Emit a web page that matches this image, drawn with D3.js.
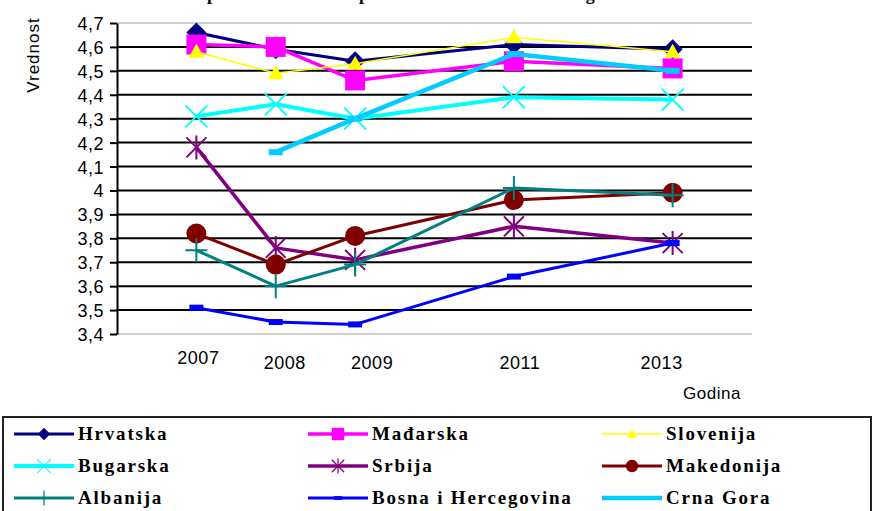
<!DOCTYPE html>
<html>
<head>
<meta charset="utf-8">
<script src="https://cdn.jsdelivr.net/npm/d3@7"></script>
<style>
  body { margin: 0; background: #fff; }
  svg { display: block; }
  .tick text { font-family: "Liberation Sans", Arial, sans-serif; }
</style>
</head>
<body>
<div id="chart"></div>
<script>
// years on the x axis
const years = [2007, 2008, 2009, 2011, 2013];

// values per country (null = no data)
const hrvatska   = [4.66, 4.59, 4.54, 4.61, 4.59];
const madjarska  = [4.61, 4.60, 4.46, 4.54, 4.51];
const slovenija  = [4.58, 4.49, 4.53, 4.64, 4.58];
const bugarska   = [4.31, 4.36, 4.30, 4.39, 4.38];
const srbija     = [4.18, 3.76, 3.71, 3.85, 3.78];
const makedonija = [3.82, 3.69, 3.81, 3.96, 3.99];
const albanija   = [3.75, 3.60, 3.69, 4.01, 3.98];
const bih        = [3.51, 3.45, 3.44, 3.64, 3.78];
const crnaGora   = [null, 4.16, 4.30, 4.57, 4.50];

const yTicks = [3.4, 3.5, 3.6, 3.7, 3.8, 3.9, 4.0, 4.1, 4.2, 4.3, 4.4, 4.5, 4.6, 4.7];

const series = [
	{ name: 'Hrvatska', values: hrvatska, color: '#000080', width: 3, marker: 'diamond' },
	{ name: 'Mađarska', values: madjarska, color: '#ff00ff', width: 3.5, marker: 'square' },
	{ name: 'Slovenija', values: slovenija, color: '#ffff00', width: 1.5, marker: 'triangle' },
	{ name: 'Bugarska', values: bugarska, color: '#00ffff', width: 4, marker: 'x' },
	{ name: 'Srbija', values: srbija, color: '#800080', width: 3.5, marker: 'star' },
	{ name: 'Makedonija', values: makedonija, color: '#800000', width: 3, marker: 'circle' },
	{ name: 'Albanija', values: albanija, color: '#008080', width: 3, marker: 'plus' },
	{ name: 'Bosna i Hercegovina', values: bih, color: '#0000ff', width: 3, marker: 'dash' },
	{ name: 'Crna Gora', values: crnaGora, color: '#00ccff', width: 4.5, marker: 'dash' }
];

const W = 874, H = 511;
const plot = { left: 117, right: 752, top: 23, bottom: 334 };

const svg = d3.select('#chart').append('svg')
	.attr('width', W)
	.attr('height', H);

// title: the chart is cropped, only the descenders of the title show at the top edge
svg.append('text')
	.attr('x', 174)
	.attr('y', 0)
	.style('font-family', '"Liberation Serif", serif')
	.style('font-weight', 'bold')
	.style('font-size', '18px')
	.text('Ukupne ocene država u periodu 2007-2013 u celom regionu');

const x = d3.scaleLinear().domain([2006, 2014]).range([plot.left, plot.right]);
const y = d3.scaleLinear().domain([3.4, 4.7]).range([plot.bottom, plot.top]);

const fmt = d => Math.abs(d - 4) < 1e-9 ? '4' : d.toFixed(1).replace('.', ',');

// grid
const grid = svg.append('g');
grid.selectAll('line')
	.data(yTicks)
	.enter()
	.append('line')
		.attr('x1', plot.left)
		.attr('x2', plot.right)
		.attr('y1', d => y(d))
		.attr('y2', d => y(d))
		.attr('stroke', (d, i) => (i === 0 || i === yTicks.length - 1) ? '#c0c0c0' : '#000')
		.attr('stroke-width', (d, i) => (i === 0 || i === yTicks.length - 1) ? 1.5 : 2);

// y axis
const yAxis = svg.append('g')
	.attr('transform', `translate(${plot.left},0)`)
	.call(d3.axisLeft(y).tickValues(yTicks).tickFormat(fmt).tickSize(7).tickSizeOuter(0));
yAxis.select('.domain').attr('stroke', '#000').attr('stroke-width', 2);
yAxis.selectAll('.tick line').attr('stroke', '#000').attr('stroke-width', 2);
yAxis.selectAll('.tick text')
	.attr('x', -13)
	.attr('dy', '0.36em')
	.style('font-size', '18px')
	.style('letter-spacing', '0.5px')
	.attr('fill', '#000');

svg.append('text')
	.attr('transform', 'translate(39,55) rotate(-90)')
	.attr('text-anchor', 'middle')
	.style('font-family', '"Liberation Sans", Arial, sans-serif')
	.style('font-size', '17px')
	.style('letter-spacing', '1px')
	.text('Vrednost');

// x labels (placed slightly off the points, as in the original)
const labelShift = { 2007: 2, 2008: 9, 2009: 17, 2011: 6, 2013: -11 };
const labelDrop = { 2007: 0, 2008: 5, 2009: 5, 2011: 5, 2013: 5 };
svg.append('g')
	.selectAll('text')
	.data(years)
	.enter()
	.append('text')
		.attr('x', d => x(d) + labelShift[d])
		.attr('y', d => 364 + labelDrop[d])
		.attr('text-anchor', 'middle')
		.style('font-family', '"Liberation Sans", Arial, sans-serif')
		.style('font-size', '18px')
		.style('letter-spacing', '0.5px')
		.text(d => d);

svg.append('text')
	.attr('x', 712)
	.attr('y', 399)
	.attr('text-anchor', 'middle')
	.style('font-family', '"Liberation Sans", Arial, sans-serif')
	.style('font-size', '17px')
	.style('letter-spacing', '0.5px')
	.text('Godina');

// marker shapes, k = scale factor
function drawMarker(g, s, cx, cy, k) {
	const m = s.marker;
	const mk = g.append('g').attr('transform', `translate(${cx},${cy}) scale(${k})`);
	if (m === 'circle') {
		mk.append('circle').attr('r', 10).attr('fill', s.color);
		return;
	}
	let d, fill = s.color, stroke = 'none', sw = 0;
	if (m === 'diamond') d = 'M0,-10L10,0L0,10L-10,0Z';
	else if (m === 'square') d = 'M-10,-10H10V10H-10Z';
	else if (m === 'triangle') d = 'M0,-8L8,6H-8Z';
	else if (m === 'x') { d = 'M-11,-11L11,11M11,-11L-11,11'; fill = 'none'; stroke = s.color; sw = 1.8; }
	else if (m === 'star') { d = 'M-10,-10L10,10M10,-10L-10,10M0,-12V12'; fill = 'none'; stroke = s.color; sw = 2; }
	else if (m === 'plus') { d = 'M-11,0H11M0,-12V12'; fill = 'none'; stroke = s.color; sw = 2; }
	else if (m === 'dash') d = 'M-7,-3H7V3H-7Z';
	mk.append('path')
		.attr('d', d)
		.attr('fill', fill)
		.attr('stroke', stroke)
		.attr('stroke-width', sw);
}

// series lines + markers
const line = d3.line()
	.defined(d => d.v !== null)
	.x(d => x(d.year))
	.y(d => y(d.v));

series.forEach(s => {
	const pts = years.map((yr, i) => ({ year: yr, v: s.values[i] }));
	const g = svg.append('g');
	g.append('path')
		.datum(pts)
		.attr('d', line)
		.attr('fill', 'none')
		.attr('stroke', s.color)
		.attr('stroke-width', s.width)
		.attr('stroke-linejoin', 'round');
	pts.filter(p => p.v !== null).forEach(p => drawMarker(g, s, x(p.year), y(p.v), 1));
});

// legend
svg.append('rect')
	.attr('x', 3)
	.attr('y', 417)
	.attr('width', 868)
	.attr('height', 110)
	.attr('fill', 'none')
	.attr('stroke', '#222')
	.attr('stroke-width', 2);

const colX = [14, 308, 602];
const rowY = [434, 466, 498];
series.forEach((s, i) => {
	const lx = colX[i % 3], ly = rowY[Math.floor(i / 3)];
	const g = svg.append('g');
	g.append('line')
		.attr('x1', lx).attr('x2', lx + 60)
		.attr('y1', ly).attr('y2', ly)
		.attr('stroke', s.color)
		.attr('stroke-width', s.width);
	drawMarker(g, s, lx + 30, ly, 0.62);
	g.append('text')
		.attr('x', lx + 64)
		.attr('y', ly + 6)
		.style('font-family', '"Liberation Serif", serif')
		.style('font-weight', 'bold')
		.style('font-size', '19px')
		.style('letter-spacing', '1.8px')
		.text(s.name);
});
</script>
</body>
</html>
